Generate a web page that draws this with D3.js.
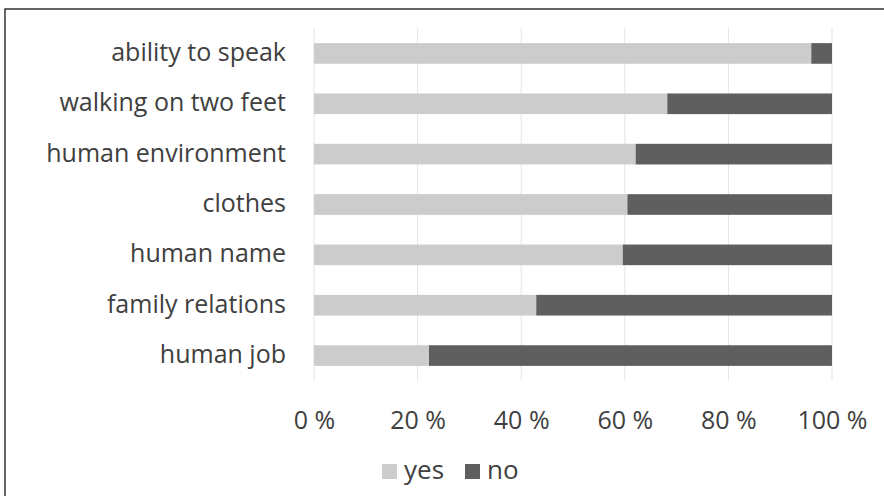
<!DOCTYPE html>
<html>
<head>
<meta charset="UTF-8">
<script src="https://cdn.jsdelivr.net/npm/d3@7"></script>
<style>
  body { margin: 0; background: #fff; }
  text { font-family: "Open Sans", sans-serif; fill: #404040; }
</style>
</head>
<body>
<svg id="chart" width="884" height="496"></svg>
<script>
// categories, top to bottom
var categories = ["ability to speak", "walking on two feet", "human environment",
  "clothes", "human name", "family relations", "human job"];
// share answering yes (%), no is the rest
var yesValues = [96, 68.2, 62.1, 60.5, 59.6, 42.9, 22.2];
var noValues = [4, 31.8, 37.9, 39.5, 40.4, 57.1, 77.8];
var xTicks = [0, 20, 40, 60, 80, 100];
var seriesNames = ["yes", "no"];
var seriesColors = ["#cccccc", "#5f5f5f"];

var svg = d3.select("#chart");

// frame
svg.append("rect")
  .attr("x", 5).attr("y", 9)
  .attr("width", 884).attr("height", 500)
  .attr("fill", "none")
  .attr("stroke", "#333")
  .attr("stroke-width", 1.5);

var x = d3.scaleLinear().domain([0, 100]).range([314, 832]);
var y = d3.scaleBand().domain(categories).range([28, 381])
  .paddingInner(0.59).paddingOuter(0.3);

// gridlines
svg.append("g").selectAll("line")
  .data(xTicks)
  .enter().append("line")
  .attr("x1", function (d) { return x(d); })
  .attr("x2", function (d) { return x(d); })
  .attr("y1", 28).attr("y2", 381)
  .attr("stroke", "#e4e4e4")
  .attr("stroke-width", 1);

// stacked bars
var rows = categories.map(function (c, i) {
  return { cat: c, yes: yesValues[i], no: noValues[i] };
});
var stack = d3.stack().keys(seriesNames)(rows);

svg.append("g").selectAll("g")
  .data(stack)
  .enter().append("g")
  .attr("fill", function (d, i) { return seriesColors[i]; })
  .selectAll("rect")
  .data(function (d) { return d; })
  .enter().append("rect")
  .attr("x", function (d) { return x(d[0]); })
  .attr("width", function (d) { return x(d[1]) - x(d[0]); })
  .attr("y", function (d) { return y(d.data.cat); })
  .attr("height", y.bandwidth());

// category labels
svg.append("g").selectAll("text")
  .data(categories)
  .enter().append("text")
  .attr("x", 286)
  .attr("y", function (d) { return y(d) + y.bandwidth() / 2; })
  .attr("dy", "0.3em")
  .attr("text-anchor", "end")
  .attr("font-size", "25px")
  .text(function (d) { return d; });

// x axis labels
var xAxis = d3.axisBottom(x).tickValues(xTicks)
  .tickSize(0).tickPadding(0)
  .tickFormat(function (d) { return d + " %"; });
var ax = svg.append("g").attr("transform", "translate(0,429)").call(xAxis);
ax.select(".domain").remove();
ax.selectAll("text").attr("font-size", "25px").attr("font-family", "Open Sans, sans-serif")
  .attr("fill", "#404040").attr("y", 0).attr("dy", 0);

// legend
var legend = svg.append("g").attr("transform", "translate(382,464)");
var lx = [0, 83];
seriesNames.forEach(function (s, i) {
  legend.append("rect")
    .attr("x", lx[i]).attr("y", 0)
    .attr("width", 15).attr("height", 15)
    .attr("fill", seriesColors[i]);
  legend.append("text")
    .attr("x", lx[i] + 22).attr("y", 15)
    .attr("font-size", "26px")
    .text(s);
});
</script>
</body>
</html>
